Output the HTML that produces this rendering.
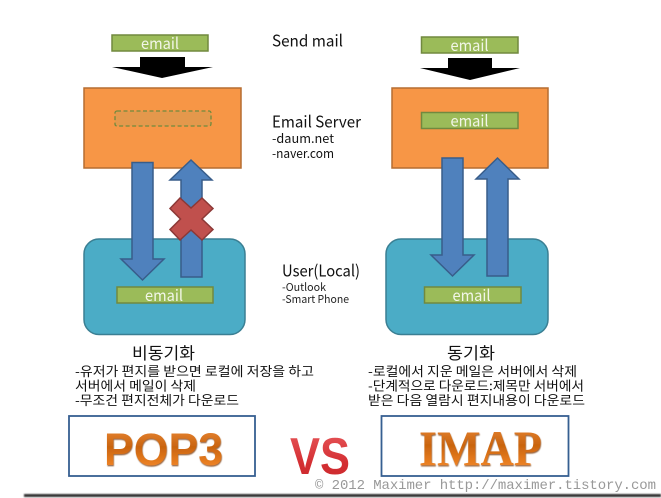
<!DOCTYPE html>
<html><head><meta charset="utf-8">
<style>html,body{margin:0;padding:0;background:#fff;width:661px;height:498px;overflow:hidden}svg{display:block}
text{font-family:"Noto Sans CJK KR","Liberation Sans",sans-serif}</style></head>
<body>
<svg width="661" height="498" viewBox="0 0 661 498" xmlns="http://www.w3.org/2000/svg">
<defs>
<linearGradient id="og" x1="0" y1="0" x2="0" y2="1"><stop offset="0" stop-color="#ee8c3c"/><stop offset=".45" stop-color="#c9640f"/><stop offset=".75" stop-color="#e87d20"/><stop offset="1" stop-color="#f49440"/></linearGradient>
<linearGradient id="rg" x1="0" y1="0" x2="0" y2="1"><stop offset="0" stop-color="#e8595c"/><stop offset=".6" stop-color="#d42f33"/><stop offset="1" stop-color="#c9282c"/></linearGradient>
<filter id="sh" x="-10%" y="-30%" width="120%" height="170%"><feDropShadow dx="0.500" dy="1.200" stdDeviation=".5" flood-color="#7a3a08" flood-opacity=".8"/></filter>
<filter id="bl" x="-5%" y="-100%" width="110%" height="300%"><feGaussianBlur stdDeviation=".7"/></filter>
</defs>

<rect x="24" y="494" width="637" height="3" fill="#333" filter="url(#bl)"/>

<!-- left column -->
<rect x="112" y="35" width="96" height="16" fill="#9bbb59" stroke="#71893f" stroke-width="1.500"/>
<text x="160" y="49" text-anchor="middle" font-size="15.500" fill="#f2f6e8" textLength="38" lengthAdjust="spacingAndGlyphs">email</text>
<polygon points="140,57 185,57 185,67 213,67 162,78 112,67 140,67" fill="#000"/>
<rect x="84" y="88" width="157" height="80" fill="#f79646" stroke="#b66d31" stroke-width="1.500"/>
<rect x="115" y="111" width="96" height="15" rx="2" fill="#e4984c" stroke="#6f8a3e" stroke-width="1.300" stroke-dasharray="4 2.500"/>

<rect x="84" y="239" width="161" height="95.500" rx="15" fill="#4bacc6" stroke="#3a7f93" stroke-width="1.500"/>
<polygon points="132,162.500 153,162.500 153,259 164,259 142.500,280 121,259 132,259" fill="#4f81bd" stroke="#385d8a" stroke-width="1.500"/>
<polygon points="191,160 212,180 202,180 202,277 181,277 181,180 170,180" fill="#4f81bd" stroke="#385d8a" stroke-width="1.500"/>
<polygon points="180,198 191,208 202,198 213,208.500 202,219 213,229.500 202,240 191,230 180,240 170,229.500 180.500,219 170,208.500" fill="#c0504d" stroke="#8c3836" stroke-width="1.500"/>
<rect x="117" y="287" width="96" height="16" fill="#9bbb59" stroke="#71893f" stroke-width="1.500"/>
<text x="164" y="301" text-anchor="middle" font-size="15.500" fill="#f2f6e8" textLength="38" lengthAdjust="spacingAndGlyphs">email</text>

<!-- right column -->
<rect x="421.500" y="37" width="96.500" height="16" fill="#9bbb59" stroke="#71893f" stroke-width="1.500"/>
<text x="469.500" y="51" text-anchor="middle" font-size="15.500" fill="#f2f6e8" textLength="38" lengthAdjust="spacingAndGlyphs">email</text>
<polygon points="448,58 492,58 492,68 520,68 470,80 420,68 448,68" fill="#000"/>
<rect x="392" y="88" width="156" height="80" fill="#f79646" stroke="#b66d31" stroke-width="1.500"/>
<rect x="421.500" y="112.500" width="96.500" height="16" fill="#9bbb59" stroke="#71893f" stroke-width="1.500"/>
<text x="469.500" y="126.500" text-anchor="middle" font-size="15.500" fill="#f2f6e8" textLength="38" lengthAdjust="spacingAndGlyphs">email</text>
<rect x="386" y="239" width="162" height="95.500" rx="15" fill="#4bacc6" stroke="#3a7f93" stroke-width="1.500"/>
<polygon points="442,158 463,158 463,255 474,255 452.500,276 431,255 442,255" fill="#4f81bd" stroke="#385d8a" stroke-width="1.500"/>
<polygon points="497.500,158 519,179 508,179 508,276 487,276 487,179 476,179" fill="#4f81bd" stroke="#385d8a" stroke-width="1.500"/>
<rect x="424.500" y="287" width="96.500" height="16" fill="#9bbb59" stroke="#71893f" stroke-width="1.500"/>
<text x="471.500" y="301" text-anchor="middle" font-size="15.500" fill="#f2f6e8" textLength="38" lengthAdjust="spacingAndGlyphs">email</text>

<!-- middle labels -->
<text x="272" y="46.500" font-size="16" fill="#111" textLength="71" lengthAdjust="spacingAndGlyphs">Send mail</text>
<text x="272" y="127.500" font-size="16" fill="#111" textLength="89" lengthAdjust="spacingAndGlyphs">Email Server</text>
<text x="272" y="143" font-size="12.500" fill="#111" textLength="62" lengthAdjust="spacingAndGlyphs">-daum.net</text>
<text x="272" y="158" font-size="12.500" fill="#111" textLength="62" lengthAdjust="spacingAndGlyphs">-naver.com</text>
<text x="282" y="276.500" font-size="16" fill="#111" textLength="78" lengthAdjust="spacingAndGlyphs">User(Local)</text>
<text x="282" y="291" font-size="11" fill="#222" textLength="44" lengthAdjust="spacingAndGlyphs">-Outlook</text>
<text x="282" y="303" font-size="11" fill="#222" textLength="67" lengthAdjust="spacingAndGlyphs">-Smart Phone</text>

<!-- korean text left -->
<text x="132" y="359" font-size="16.500" fill="#111" textLength="63" lengthAdjust="spacingAndGlyphs">비동기화</text>
<text x="75" y="376" font-size="13" fill="#111" textLength="239" lengthAdjust="spacingAndGlyphs">-유저가 편지를 받으면 로컬에 저장을 하고</text>
<text x="75" y="390.500" font-size="13" fill="#111" textLength="121" lengthAdjust="spacingAndGlyphs">서버에서 메일이 삭제</text>
<text x="75" y="405" font-size="13" fill="#111" textLength="164" lengthAdjust="spacingAndGlyphs">-무조건 편지전체가 다운로드</text>

<!-- korean text right -->
<text x="447" y="359" font-size="16.500" fill="#111" textLength="48" lengthAdjust="spacingAndGlyphs">동기화</text>
<text x="368" y="376" font-size="13" fill="#111" textLength="209" lengthAdjust="spacingAndGlyphs">-로컬에서 지운 메일은 서버에서 삭제</text>
<text x="368" y="390.500" font-size="13" fill="#111" textLength="216" lengthAdjust="spacingAndGlyphs">-단계적으로 다운로드:제목만 서버에서</text>
<text x="368" y="405" font-size="13" fill="#111" textLength="217" lengthAdjust="spacingAndGlyphs">받은 다음 열람시 편지내용이 다운로드</text>

<!-- title boxes -->
<rect x="69" y="416" width="186" height="60" fill="#fff" stroke="#365f91" stroke-width="1.800"/>
<rect x="381.500" y="416" width="187" height="60" fill="#fff" stroke="#365f91" stroke-width="1.800"/>
<text x="104" y="465" font-size="45" font-weight="700" fill="url(#og)" filter="url(#sh)" textLength="119" lengthAdjust="spacingAndGlyphs" style="font-family:'Liberation Sans',sans-serif">POP3</text>
<text x="419" y="465" font-size="50" font-weight="700" fill="url(#og)" filter="url(#sh)" textLength="123" lengthAdjust="spacingAndGlyphs" style="font-family:'Liberation Serif',serif">IMAP</text>
<text x="290" y="474" font-size="52" font-weight="700" fill="url(#rg)" textLength="60" lengthAdjust="spacingAndGlyphs" style="font-family:'Liberation Sans',sans-serif">VS</text>

<text x="315" y="489" font-size="14" fill="#999" textLength="341" style="font-family:'Liberation Mono',monospace">© 2012 Maximer http://maximer.tistory.com</text>
</svg>
</body></html>
